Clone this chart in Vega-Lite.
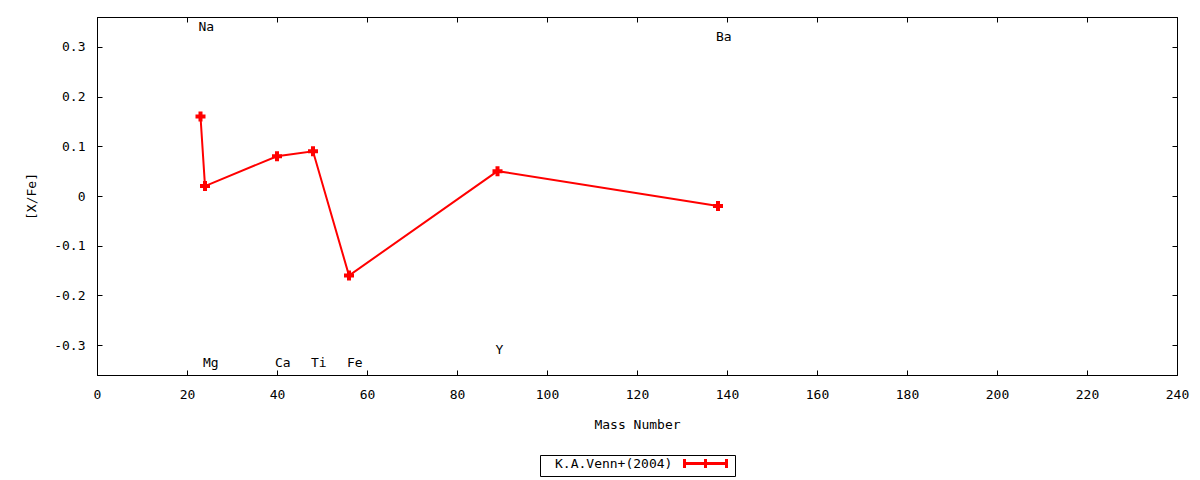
{
  "$schema": "https://vega.github.io/schema/vega-lite/v6.json",
  "width": 1080,
  "height": 358,
  "autosize": "none",
  "padding": {"left": 97, "top": 17, "right": 23, "bottom": 105},
  "background": "white",
  "config": {
    "font": "DejaVu Sans Mono",
    "view": {"stroke": "black", "strokeWidth": 1},
    "axis": {
      "grid": false,
      "domainColor": "black",
      "tickColor": "black",
      "tickSize": -5,
      "labelFont": "DejaVu Sans Mono",
      "labelFontSize": 13,
      "labelColor": "black",
      "titleFont": "DejaVu Sans Mono",
      "titleFontSize": 13,
      "titleFontWeight": "normal",
      "titleColor": "black"
    }
  },
  "datasets": {
    "venn": [
      {"element": "Na", "mass": 23, "xfe": 0.16, "label_y": 0.34, "source": "K.A.Venn+(2004)"},
      {"element": "Mg", "mass": 24, "xfe": 0.02, "label_y": -0.335, "source": "K.A.Venn+(2004)"},
      {"element": "Ca", "mass": 40, "xfe": 0.08, "label_y": -0.335, "source": "K.A.Venn+(2004)"},
      {"element": "Ti", "mass": 48, "xfe": 0.09, "label_y": -0.335, "source": "K.A.Venn+(2004)"},
      {"element": "Fe", "mass": 56, "xfe": -0.16, "label_y": -0.335, "source": "K.A.Venn+(2004)"},
      {"element": "Y", "mass": 89, "xfe": 0.05, "label_y": -0.31, "source": "K.A.Venn+(2004)"},
      {"element": "Ba", "mass": 138, "xfe": -0.02, "label_y": 0.32, "source": "K.A.Venn+(2004)"}
    ]
  },
  "data": {"name": "venn"},
  "resolve": {"axis": {"x": "independent", "y": "independent"}},
  "layer": [
    {
      "mark": {"type": "line", "strokeWidth": 2, "point": {"shape": "cross", "size": 100, "filled": true}},
      "encoding": {
        "x": {
          "field": "mass", "type": "quantitative",
          "scale": {"domain": [0, 240], "nice": false},
          "axis": {"orient": "bottom", "title": "Mass Number", "values": [0, 20, 40, 60, 80, 100, 120, 140, 160, 180, 200, 220, 240], "labelPadding": 18, "titlePadding": 17, "labelFlush": false}
        },
        "y": {
          "field": "xfe", "type": "quantitative",
          "scale": {"domain": [-0.36, 0.36], "nice": false, "zero": false},
          "axis": {"orient": "left", "title": "[X/Fe]", "values": [-0.3, -0.2, -0.1, 0, 0.1, 0.2, 0.3], "labelExpr": "datum.value == 0 ? '0' : toString(round(datum.value * 10) / 10)", "labelPadding": 17, "titlePadding": 15}
        },
        "color": {
          "field": "source", "type": "nominal",
          "scale": {"domain": ["K.A.Venn+(2004)"], "range": ["red"]},
          "legend": {
            "orient": "none",
            "legendX": 443,
            "legendY": 438,
            "title": null,
            "padding": 2,
            "strokeColor": "black",
            "fillColor": "white",
            "labelFont": "DejaVu Sans Mono",
            "labelFontSize": 13,
            "labelColor": "black",
            "labelOffset": -157,
            "symbolType": "M-4.2,0L4.2,0M-4.2,-0.9L-4.2,0.9M0,-0.9L0,0.9M4.2,-0.9L4.2,0.9",
            "symbolSize": 100,
            "symbolOffset": 157,
            "symbolStrokeColor": "red",
            "symbolStrokeWidth": 3,
            "symbolFillColor": "transparent"
          }
        }
      }
    },
    {
      "mark": {"type": "text", "align": "left", "baseline": "middle", "dx": -2, "font": "DejaVu Sans Mono", "fontSize": 13, "color": "black"},
      "encoding": {
        "x": {
          "field": "mass", "type": "quantitative",
          "axis": {"orient": "top", "title": null, "labels": false, "values": [0, 20, 40, 60, 80, 100, 120, 140, 160, 180, 200, 220, 240]}
        },
        "y": {
          "field": "label_y", "type": "quantitative",
          "axis": {"orient": "right", "title": null, "labels": false, "values": [-0.3, -0.2, -0.1, 0, 0.1, 0.2, 0.3]}
        },
        "text": {"field": "element"}
      }
    }
  ]
}
